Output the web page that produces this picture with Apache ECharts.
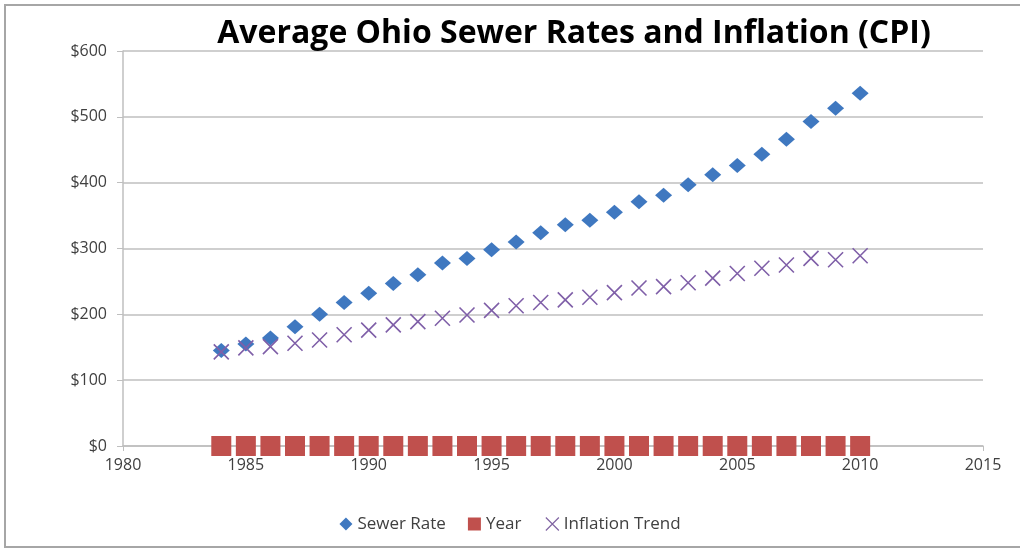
<!DOCTYPE html>
<html>
<head>
<meta charset="utf-8">
<script src="https://cdn.jsdelivr.net/npm/echarts@6/dist/echarts.min.js"></script>
<style>
  html, body { margin: 0; padding: 0; background: #fff; }
  #chart { width: 1020px; height: 550px; }
</style>
</head>
<body>
<div id="chart"></div>
<script>
// years 1984..2010
const years = [1984, 1985, 1986, 1987, 1988, 1989, 1990, 1991, 1992, 1993, 1994, 1995, 1996, 1997,
  1998, 1999, 2000, 2001, 2002, 2003, 2004, 2005, 2006, 2007, 2008, 2009, 2010];
const sewerRate = [145, 155, 164, 181, 200, 218, 232, 247, 260, 278, 285, 298, 310, 324,
  336, 343, 355, 371, 381, 397, 412, 426, 443, 466, 493, 513, 536];
const yearSeries = [0, 0, 0, 0, 0, 0, 0, 0, 0, 0, 0, 0, 0, 0,
  0, 0, 0, 0, 0, 0, 0, 0, 0, 0, 0, 0, 0];
const inflation = [143, 149, 151, 156, 161, 169, 176, 184, 189, 194, 199, 206, 213, 218,
  222, 226, 233, 240, 242, 248, 255, 262, 270, 275, 285, 283, 289];

const crossPath = 'path://M0,0L10,10M10,0L0,10';

const pair = (vals) => years.map((y, i) => [y, vals[i]]);

const chart = echarts.init(document.getElementById('chart'));
const option = {
  backgroundColor: '#fff',
  animation: false,
  title: {
    text: 'Average Ohio Sewer Rates and Inflation (CPI)',
    left: 569,
    textAlign: 'center',
    top: 13,
    textStyle: { fontFamily: 'Open Sans', fontWeight: 'bold', fontSize: 32, color: '#000' }
  },
  legend: {
    bottom: 12,
    left: 'center',
    itemGap: 22,
    itemWidth: 13,
    itemHeight: 13,
    textStyle: { fontFamily: 'Open Sans', fontSize: 17, color: '#404040' },
    data: [
      { name: 'Sewer Rate', icon: 'diamond' },
      { name: 'Year', icon: 'rect' },
      { name: 'Inflation Trend', icon: crossPath, itemStyle: { color: 'none', borderColor: '#8064A2', borderWidth: 1.2, opacity: 1 } }
    ]
  },
  grid: { left: 123, right: 37, top: 51, bottom: 104 },
  xAxis: {
    type: 'value',
    min: 1980,
    max: 2015,
    interval: 5,
    axisLine: { show: true, lineStyle: { color: '#bfbfbf', width: 1.5 } },
    axisTick: { show: true, length: 5, lineStyle: { color: '#bfbfbf' } },
    axisLabel: { fontFamily: 'Open Sans', fontSize: 16, color: '#404040', margin: 11, formatter: (v) => String(v) },
    splitLine: { show: false }
  },
  yAxis: {
    type: 'value',
    min: 0,
    max: 600,
    interval: 100,
    axisLine: { show: true, lineStyle: { color: '#bfbfbf', width: 1.5 } },
    axisTick: { show: true, length: 6, lineStyle: { color: '#bfbfbf' } },
    axisLabel: { fontFamily: 'Open Sans', fontSize: 16, color: '#404040', margin: 16, formatter: '${value}' },
    splitLine: { show: true, lineStyle: { color: '#bfbfbf', width: 1.5 } }
  },
  series: [
    {
      name: 'Sewer Rate',
      type: 'scatter',
      symbol: 'diamond',
      symbolSize: [17, 15],
      itemStyle: { color: '#3F78C0', opacity: 1 },
      data: pair(sewerRate)
    },
    {
      name: 'Year',
      type: 'scatter',
      symbol: 'rect',
      symbolSize: 20,
      itemStyle: { color: '#C0504D', opacity: 1 },
      data: pair(yearSeries)
    },
    {
      name: 'Inflation Trend',
      type: 'scatter',
      symbol: crossPath,
      symbolSize: 15,
      itemStyle: { color: 'none', borderColor: '#7F5FA8', borderWidth: 1.6, opacity: 1 },
      data: pair(inflation)
    }
  ],
  graphic: [
    {
      type: 'rect',
      shape: { x: 5, y: 5, width: 1030, height: 542 },
      style: { fill: 'none', stroke: '#a6a6a6', lineWidth: 2 },
      silent: true
    }
  ]
};
chart.setOption(option);
</script>
</body>
</html>
